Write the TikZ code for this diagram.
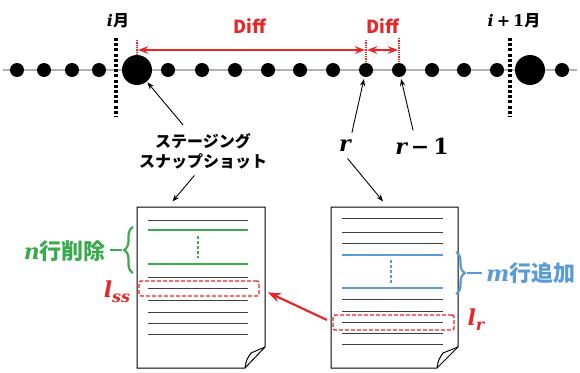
\documentclass[tikz,border=0pt]{standalone}
\usepackage{fontspec}
\newfontfamily\jp{Noto Sans CJK JP}
\newfontfamily\vf{DejaVu Serif}
\newcommand{\var}[1]{{\vf\bfseries\itshape #1}}
\usetikzlibrary{arrows.meta,decorations.pathreplacing}
\definecolor{cred}{RGB}{232,38,42}
\definecolor{cgreen}{RGB}{58,170,78}
\definecolor{cblue}{RGB}{91,155,213}
\tikzset{
  dot/.style={circle, fill=black, inner sep=0pt, minimum size=14pt},
  bigdot/.style={circle, fill=black, inner sep=0pt, minimum size=30pt},
  month/.style={font=\fontsize{16}{18}\selectfont\jp\bfseries},
  difflab/.style={font=\fontsize{18}{20}\selectfont\jp\bfseries, text=cred},
  lab/.style={font=\fontsize{16}{20}\selectfont\jp\bfseries, align=center},
  mlab/.style={font=\fontsize{22}{24}\selectfont\jp\bfseries},
  doctext/.style={line width=0.9pt, black!75},
  redbox/.style={draw=cred, dash pattern=on 4pt off 2pt, rounded corners=2pt, line width=1.4pt, inner sep=0pt},
  brace/.style={decorate, decoration={brace, amplitude=9pt}, line width=2.2pt}
}
\begin{document}
\begin{tikzpicture}[x=1pt, y=-1pt, line join=round, >=Stealth]
\useasboundingbox (0,0) rectangle (580,372);
% timeline
\draw[black!30, line width=1.5pt] (3,70)--(577,70);
\foreach \x in {17,44,72,99,168,202,235,268,300,333,432,464,497,562}
  \node[dot] at (\x,70) {};
\node[bigdot] (bi) at (137,70) {};
\node[bigdot] (bj) at (530,70) {};
\node[dot] (dr) at (366,70) {};
\node[dot] (drm) at (399,70) {};
% month borders
\node[month] (mi) at (118,21) {\var{i}月};
\node[month] (mj) at (514,21) {\var{i}\hspace{3pt}{\vf\bfseries +}\hspace{3pt}{\vf\bfseries 1}月};
\draw[line width=3.5pt, dash pattern=on 3pt off 2.2pt] (116,38)--(116,117);
\draw[line width=3.5pt, dash pattern=on 3pt off 2.2pt] (510,38)--(510,117);
% diffs
\draw[cred, densely dotted, line width=1.3pt] (137,40)--(137,55);
\draw[cred, densely dotted, line width=1.3pt] (366,40)--(366,63);
\draw[cred, densely dotted, line width=1.3pt] (399,38)--(399,63);
\draw[cred, <->, line width=1.6pt] (138,50)--(365,50);
\draw[cred, <->, line width=1.6pt] (367,50)--(398,50);
\node[difflab] (diffa) at (250,26) {Diff};
\node[difflab] (diffb) at (383,26) {Diff};
% labels
\node[lab] (stg) at (203,151) {ステージング\\スナップショット};
\node[mlab] (rl) at (345,146) {\var{r}};
\node[mlab] (rml) at (422,146) {\var{r}\hspace{4pt}{\vf\bfseries −}\hspace{4pt}{\vf\bfseries 1}};
\draw[->, line width=0.9pt, shorten <=6pt, shorten >=1pt] ([xshift=-16pt]stg.north) -- (bi);
\draw[->, line width=0.9pt, shorten <=4pt, shorten >=2pt] ([xshift=6pt]rl.north) -- (dr);
\draw[->, line width=0.9pt, shorten <=4pt, shorten >=2pt] ([xshift=-8pt]rml.north) -- (drm);
% documents
\draw[line width=1pt, fill=white] (137,207)--(265,207)--(265,347)--(245,368)--(137,368)--cycle;
\draw[line width=1pt] (245,368) to[bend left=15] (251,353) -- (265,347);
\draw[line width=1pt, fill=white] (331,207)--(458,207)--(458,347)--(437,368)--(331,368)--cycle;
\draw[line width=1pt] (437,368) to[bend left=15] (443,353) -- (458,347);
\node[inner sep=0pt, minimum width=128pt, minimum height=161pt] (docl) at (201,287.5) {};
\node[inner sep=0pt, minimum width=127pt, minimum height=161pt] (docr) at (394.5,287.5) {};
\draw[->, line width=0.9pt, shorten <=4pt, shorten >=7pt] ([xshift=-6pt]stg.south) -- ([xshift=-33pt]docl.north);
\draw[->, line width=0.9pt, shorten <=4pt, shorten >=7pt] (rl.south) -- ([xshift=-7pt]docr.north);
% left: snapshot
\foreach \y in {220,277,288,300,312,323,334}
  \draw[doctext] (148,\y)--(248,\y);
\draw[cgreen, line width=1.5pt] (148,230)--(248,230);
\draw[cgreen, line width=1.5pt] (148,264)--(248,264);
\draw[cgreen, line width=2.5pt, dash pattern=on 3pt off 2pt] (198,236)--(198,258);
\node[redbox, minimum width=120pt, minimum height=15pt] (bss) at (199,288.5) {};
\draw[cgreen, brace] (133,273) -- (133,227);
\draw[cgreen, line width=2.2pt] (122,250) -- (110,250);
\node[mlab, text=cgreen, anchor=east, inner sep=1pt] (nlab) at (107,251) {\var{n}行削除};
\node[mlab, text=cred] (lss) at (117,292) {\var{l}\raisebox{-5pt}{\fontsize{16}{16}\selectfont\var{ss}}};
% right: revision r
\foreach \y in {218,232,243,299,311,322,333,344}
  \draw[doctext] (342,\y)--(443,\y);
\draw[cblue, line width=1.5pt] (342,255)--(443,255);
\draw[cblue, line width=1.5pt] (342,288)--(443,288);
\draw[cblue, line width=2.5pt, dash pattern=on 3pt off 2pt] (391,260)--(391,283);
\node[redbox, minimum width=121pt, minimum height=15pt] (br) at (393.5,322.5) {};
\draw[cblue, brace] (456,252) -- (456,294);
\draw[cblue, line width=2.2pt] (467,273) -- (482,273);
\node[mlab, text=cblue, anchor=west, inner sep=1pt] (mlab) at (485,273) {\var{m}行追加};
\node[mlab, text=cred] (lr) at (476,320) {\var{l}\raisebox{-5pt}{\fontsize{16}{16}\selectfont\var{r}}};
\draw[cred, ->, line width=2.2pt, shorten <=6pt, shorten >=9pt] (br.west) -- (bss.east);
\end{tikzpicture}
\end{document}
